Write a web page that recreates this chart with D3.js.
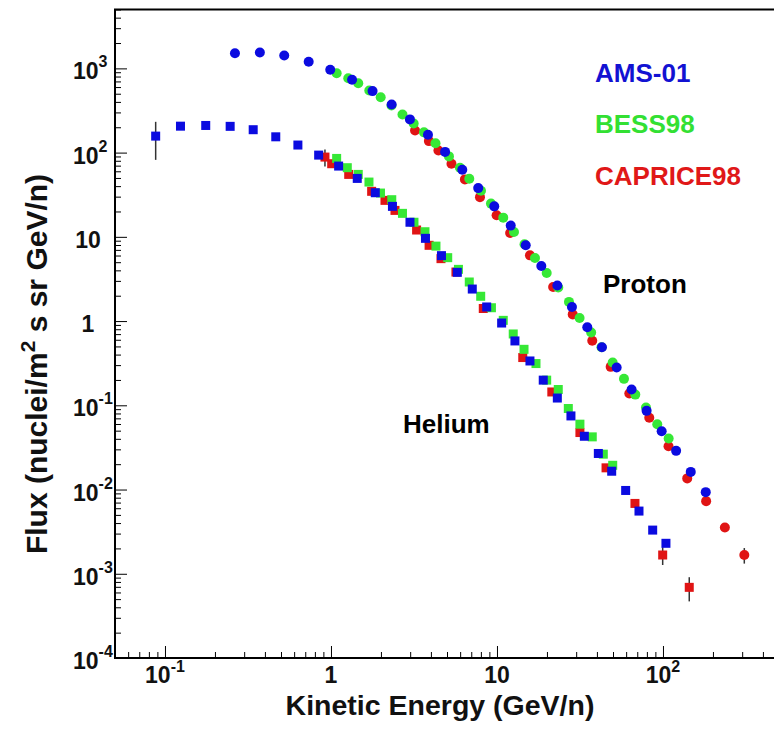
<!DOCTYPE html>
<html><head><meta charset="utf-8">
<script src="https://cdn.jsdelivr.net/npm/d3@7"></script>
<style>
body{margin:0;background:#fff}
svg{display:block}
text{font-family:"Liberation Sans",Arial,Helvetica,sans-serif;font-weight:bold}
</style>
</head><body>
<svg id="c" width="774" height="734"></svg>
<script>
// ---- data (kinetic energy GeV/n, flux) ----
const amsProtonE = [0.264,0.373,0.523,0.734,0.99,1.34,1.78,2.32,2.99,3.84,4.87,6.18,7.71,9.63,12.1,14.9,18.5,23.1,28.3,35.0,42.9,52.6,64.7,79.7,98.2,120,147,181];
const amsProtonF = [1514,1545,1422,1197,962,733,537,373,248,163,102,62.7,37.9,23.0,13.6,7.93,4.51,2.64,1.47,0.843,0.489,0.281,0.154,0.0859,0.0493,0.0288,0.0162,0.00931];

const bessProtonE = [1.082,1.271,1.460,1.701,1.993,2.315,2.696,3.149,3.633,4.262,5.138,5.985,6.811,8.011,9.203,10.91,12.66,14.65,16.94,19.93,23.40,27.15,31.45,36.94,42.62,49.77,58.22,68.11,79.0,92.4,108.2];
const bessProtonF = [877,765,667,547,455,363,284,222,174,129,90.2,66.2,49.0,35.3,24.8,16.9,11.4,8.15,5.61,3.72,2.50,1.69,1.09,0.731,0.489,0.322,0.206,0.134,0.0942,0.0597,0.0403];

const capriceProtonE = [3.21,3.89,4.44,5.32,6.41,7.90,9.95,12.0,15.8,21.8,28.6,37.5,48.4,62.7,82.7,108,140,182,236,309];
const capriceProtonF = [183,137,106,73.8,48.1,29.6,18.0,11.1,6.03,2.54,1.20,0.583,0.286,0.138,0.0710,0.0327,0.01356,0.00728,0.00355,0.00167];
const capriceProtonErr = [0,0,0,0,0,0,0,0,0,0,0,0,0,0,0,0,0,0,0.0003,0.00035];

const amsHeliumE = [0.0879,0.124,0.176,0.247,0.340,0.465,0.632,0.843,1.112,1.440,1.849,2.346,2.992,3.709,4.63,5.77,7.10,8.67,10.67,12.83,15.8,19.0,23.1,27.9,33.6,40.8,49.1,59.6,71.7,86.7,104.2];
const amsHeliumF = [157,206,210,205,187,154,123,93.4,69.2,49.4,33.4,23.0,14.9,9.60,5.98,3.79,2.40,1.47,0.948,0.581,0.336,0.199,0.122,0.0748,0.0429,0.0268,0.0165,0.00975,0.00555,0.00330,0.00230];
const amsHeliumErr = [75,0,0,0,0,0,0,0,0,0,0,0,0,0,0,0,0,0,0,0,0,0,0,0,0,0,0,0,0,0,0];

const bessHeliumE = [1.082,1.254,1.460,1.694,1.987,2.324,2.696,3.162,3.684,4.29,5.05,5.86,6.81,7.98,9.26,10.91,12.53,14.55,17.18,19.93,23.40,26.9,31.6,37.5,43.7,49.8];
const bessHeliumF = [85.3,66.2,55.1,44.7,33.1,27.6,19.0,14.9,11.5,7.76,5.66,4.11,2.91,1.97,1.44,1.02,0.703,0.462,0.313,0.199,0.154,0.0916,0.0597,0.0422,0.0263,0.0194];

const capriceHeliumE = [0.920,1.01,1.279,1.758,2.115,2.43,3.28,3.90,4.60,5.66,8.27,14.3,21.4,31.6,45.4,67.8,99.6,144];
const capriceHeliumF = [88.5,73.8,55.1,34.7,27.1,20.6,12.05,7.93,5.51,3.82,1.41,0.369,0.144,0.0475,0.0181,0.00684,0.00167,0.00069];
const capriceHeliumErr = [20,0,0,0,0,0,0,0,0,0,0,0,0,0,0,0.0008,0.0004,0.00022];

const xMajorTicks = [0.1,1,10,100];
const xTickLabels = [["10","-1"],["1",""],["10",""],["10","2"]];
const yMajorTicks = [1e3,1e2,10,1,0.1,0.01,1e-3,1e-4];
const yTickLabels = [["10","3"],["10","2"],["10",""],["1",""],["10","-1"],["10","-2"],["10","-3"],["10","-4"]];

const legendNames = ["AMS-01","BESS98","CAPRICE98"];
const legendColors = ["#1212d2","#33e033","#e01818"];
const markerColors = {ams:"#0b0be0", bess:"#36e836", caprice:"#e01414"};

// ---- layout ----
const svg = d3.select("#c");
const L = 115, R = 779, T = 9.5, B = 658;
const x = d3.scaleLog().domain([0.05, 500]).range([L, R]);
const y = d3.scaleLog().domain([1e-4, 5000]).range([B, T]);

function minorTicks(domain){
  const out=[];
  for(let e=-5;e<=4;e++){
    for(let k=2;k<=9;k++){
      const v=k*Math.pow(10,e);
      if(v>=domain[0]*0.999 && v<=domain[1]*1.001) out.push(v);
    }
  }
  return out;
}

// axes ticks (inward)
const gx = svg.append("g").attr("transform",`translate(0,${B})`);
gx.append("g").call(d3.axisBottom(x).tickValues(minorTicks(x.domain())).tickSize(-6).tickSizeOuter(0).tickFormat(""));
gx.append("g").call(d3.axisBottom(x).tickValues(xMajorTicks).tickSize(-12).tickSizeOuter(0).tickFormat(""));
const gy = svg.append("g").attr("transform",`translate(${L},0)`);
gy.append("g").call(d3.axisLeft(y).tickValues(minorTicks(y.domain())).tickSize(-6).tickSizeOuter(0).tickFormat(""));
gy.append("g").call(d3.axisLeft(y).tickValues(yMajorTicks).tickSize(-12).tickSizeOuter(0).tickFormat(""));
svg.selectAll(".domain").remove();
svg.selectAll(".tick line").attr("stroke","#000").attr("stroke-width",1);

// frame
svg.append("path").attr("d",`M${L},${B}H774 M${L},${T}H774 M${L},${T-1}V${B+1}`)
  .attr("stroke","#000").attr("stroke-width",2).attr("fill","none");

// tick labels
xMajorTicks.forEach((v,i)=>{
  const t = svg.append("text").attr("x",x(v)).attr("y",B+25).attr("text-anchor","middle")
    .attr("font-size",23).attr("fill","#111");
  t.append("tspan").text(xTickLabels[i][0]);
  if(xTickLabels[i][1]) t.append("tspan").attr("dy",-11).attr("font-size",16).text(xTickLabels[i][1]);
});
yMajorTicks.forEach((v,i)=>{
  const lab = yTickLabels[i];
  const t = svg.append("text").attr("y",y(v)+11).attr("font-size",23).attr("fill","#111");
  if(lab[1]){
    t.attr("x",73).attr("text-anchor","start");
    t.append("tspan").text(lab[0]);
    t.append("tspan").attr("dy",-12).attr("font-size",16).text(lab[1]);
  } else {
    t.attr("x",88).attr("text-anchor","middle").text(lab[0]);
  }
});

// axis titles
svg.append("text").attr("x",440).attr("y",715).attr("text-anchor","middle")
  .attr("font-size",28.5).attr("fill","#111").text("Kinetic Energy (GeV/n)");
const yt = svg.append("text").attr("transform","translate(47,364) rotate(-90)")
  .attr("text-anchor","middle").attr("font-size",30).attr("fill","#111");
yt.append("tspan").text("Flux (nuclei/m");
yt.append("tspan").attr("dy",-12).attr("font-size",21).text("2");
yt.append("tspan").attr("dy",12).text(" s sr GeV/n)");

// series drawing
function zip(E,F,Er){ return E.map((e,i)=>({e, f:F[i], err: Er ? Er[i] : 0})); }
const plot = svg.append("g");
function drawErr(data){
  plot.selectAll(null).data(data.filter(d=>d.err>0)).join("line")
    .attr("x1",d=>x(d.e)).attr("x2",d=>x(d.e))
    .attr("y1",d=>y(d.f+d.err)).attr("y2",d=>y(Math.max(d.f-d.err,1e-5)))
    .attr("stroke","#333").attr("stroke-width",1.5);
}
function drawCircles(data,color){
  drawErr(data);
  plot.selectAll(null).data(data).join("circle")
    .attr("cx",d=>x(d.e)).attr("cy",d=>y(d.f)).attr("r",5).attr("fill",color);
}
function drawSquares(data,color){
  drawErr(data);
  const s=9;
  plot.selectAll(null).data(data).join("rect")
    .attr("x",d=>x(d.e)-s/2).attr("y",d=>y(d.f)-s/2).attr("width",s).attr("height",s).attr("fill",color);
}
drawSquares(zip(capriceHeliumE,capriceHeliumF,capriceHeliumErr), markerColors.caprice);
drawCircles(zip(capriceProtonE,capriceProtonF,capriceProtonErr), markerColors.caprice);
drawSquares(zip(bessHeliumE,bessHeliumF), markerColors.bess);
drawCircles(zip(bessProtonE,bessProtonF), markerColors.bess);
drawSquares(zip(amsHeliumE,amsHeliumF,amsHeliumErr), markerColors.ams);
drawCircles(zip(amsProtonE,amsProtonF), markerColors.ams);

// legend and labels
const legY = [82,133,185];
legendNames.forEach((n,i)=>{
  svg.append("text").attr("x",595).attr("y",legY[i]).attr("font-size",26).attr("fill",legendColors[i]).text(n);
});
svg.append("text").attr("x",603).attr("y",293).attr("font-size",26).attr("fill","#000").text("Proton");
svg.append("text").attr("x",403).attr("y",433).attr("font-size",26).attr("fill","#000").text("Helium");
</script>
</body></html>
